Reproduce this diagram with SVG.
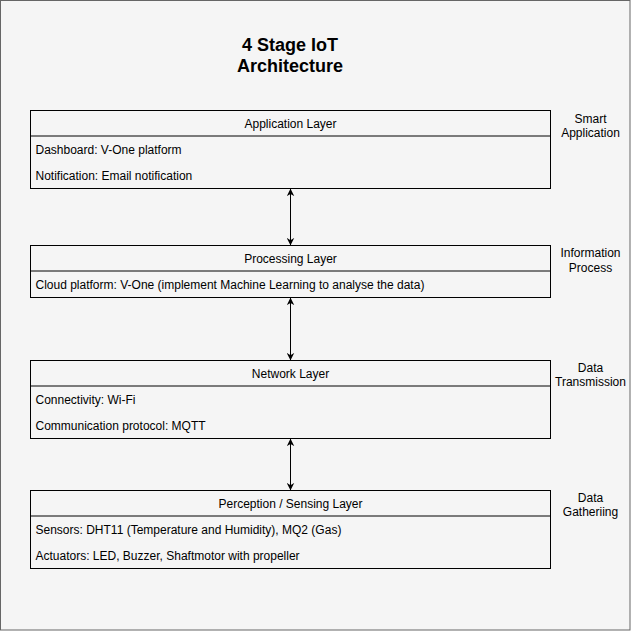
<svg xmlns="http://www.w3.org/2000/svg" width="631" height="631" viewBox="0 0 631 631">
<defs>
<style>
.bg{fill:#f5f5f5;stroke:#666666;stroke-width:1}
.box{fill:none;stroke:#000000;stroke-width:1}
.t{font-family:"Liberation Sans",Arial,sans-serif;font-size:12px;fill:#000000}
.c{text-anchor:middle}
.title{font-family:"Liberation Sans",Arial,sans-serif;font-size:18px;font-weight:bold;fill:#000000;text-anchor:middle}
.conn{stroke:#000000;stroke-width:1;fill:none;marker-start:url(#arr);marker-end:url(#arr)}
</style>
<marker id="arr" viewBox="0 0 10 10" refX="9.5" refY="5" markerWidth="7.5" markerHeight="8" markerUnits="userSpaceOnUse" orient="auto-start-reverse">
<path d="M0,0 L10,5 L0,10 L3,5 Z" fill="#000000"/>
</marker>
</defs>
<rect class="bg" x="0.5" y="0.5" width="629.5" height="629.5"/>
<g id="title">
<text class="title" x="290" y="50.5">4 Stage IoT</text>
<text class="title" x="290" y="72">Architecture</text>
</g>
<g id="application-layer">
<rect class="box" x="30.5" y="110.5" width="520" height="78"/>
<line class="box" x1="30.5" y1="136" x2="550.5" y2="136"/>
<text class="t c" x="290.5" y="127.5">Application Layer</text>
<text class="t" x="35.5" y="154">Dashboard: V-One platform</text>
<text class="t" x="35.5" y="180">Notification: Email notification</text>
</g>
<g id="processing-layer">
<rect class="box" x="30.5" y="245.5" width="520" height="52"/>
<line class="box" x1="30.5" y1="271" x2="550.5" y2="271"/>
<text class="t c" x="290.5" y="262.5">Processing Layer</text>
<text class="t" x="35.5" y="289">Cloud platform: V-One (implement Machine Learning to analyse the data)</text>
</g>
<g id="network-layer">
<rect class="box" x="30.5" y="360.5" width="520" height="78"/>
<line class="box" x1="30.5" y1="386" x2="550.5" y2="386"/>
<text class="t c" x="290.5" y="377.5">Network Layer</text>
<text class="t" x="35.5" y="404">Connectivity: Wi-Fi</text>
<text class="t" x="35.5" y="430">Communication protocol: MQTT</text>
</g>
<g id="perception-layer">
<rect class="box" x="30.5" y="490.5" width="520" height="78"/>
<line class="box" x1="30.5" y1="516" x2="550.5" y2="516"/>
<text class="t c" x="290.5" y="507.5">Perception / Sensing Layer</text>
<text class="t" x="35.5" y="534">Sensors: DHT11 (Temperature and Humidity), MQ2 (Gas)</text>
<text class="t" x="35.5" y="560">Actuators: LED, Buzzer, Shaftmotor with propeller</text>
</g>
<g id="label-smart-application">
<text class="t c" x="590.5" y="122.5">Smart</text>
<text class="t c" x="590.5" y="137">Application</text>
</g>
<g id="label-information-process">
<text class="t c" x="590.5" y="257">Information</text>
<text class="t c" x="590.5" y="271.5">Process</text>
</g>
<g id="label-data-transmission">
<text class="t c" x="590.5" y="371.5">Data</text>
<text class="t c" x="590.5" y="386">Transmission</text>
</g>
<g id="label-data-gathering">
<text class="t c" x="590.5" y="501.5">Data</text>
<text class="t c" x="590.5" y="516">Gatheriing</text>
</g>
<g id="connectors">
<line class="conn" x1="290.5" y1="189" x2="290.5" y2="245"/>
<line class="conn" x1="290.5" y1="298" x2="290.5" y2="360"/>
<line class="conn" x1="290.5" y1="439" x2="290.5" y2="490"/>
</g>
</svg>
